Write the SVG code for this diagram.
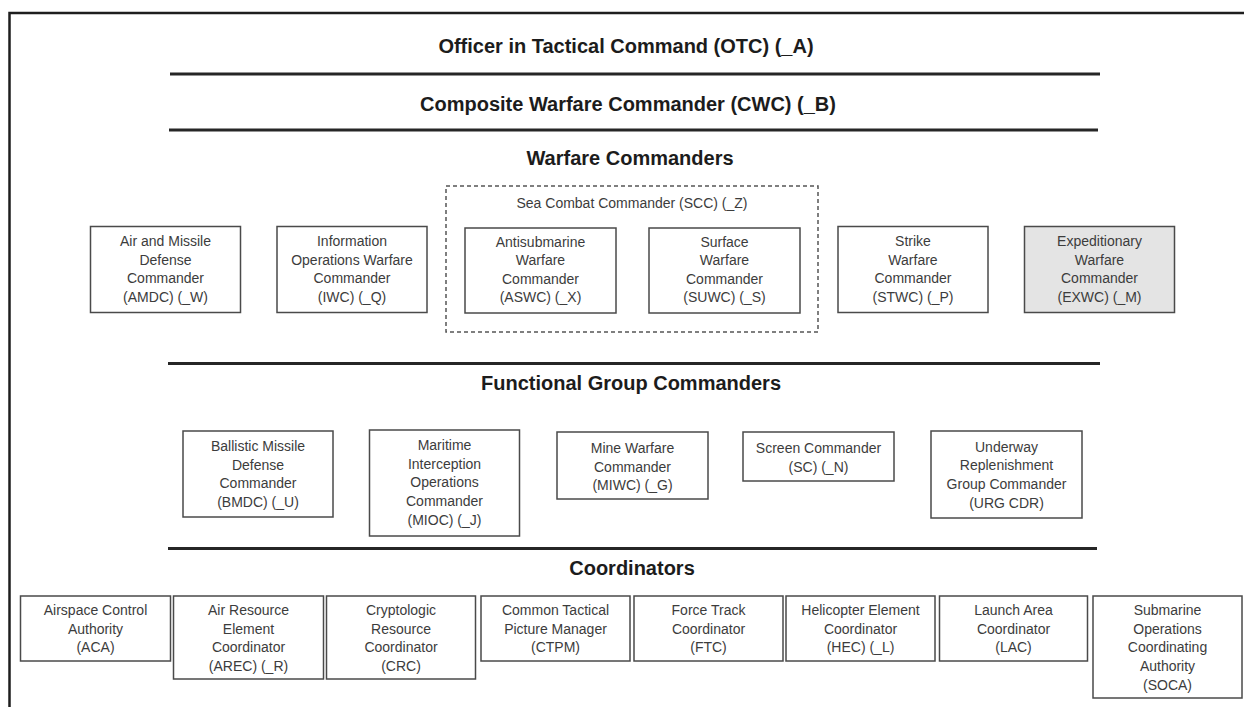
<svg xmlns="http://www.w3.org/2000/svg" width="1244" height="707" viewBox="0 0 1244 707">
<style>
.title{font-family:"Liberation Sans",Arial,sans-serif;font-weight:bold;font-size:20px;fill:#1c1c1c;text-anchor:middle}
.lbl{font-family:"Liberation Sans",Arial,sans-serif;font-size:14px;fill:#3c3c3c;text-anchor:middle}
.box{fill:#ffffff;stroke:#4a4a4a;stroke-width:1.5}
.shaded{fill:#e4e4e4}
.sep{stroke:#262626;stroke-width:3;fill:none}
.frame{stroke:#1e1e1e;stroke-width:2.5;fill:none}
.dash{fill:none;stroke:#555555;stroke-width:1.5;stroke-dasharray:4 3}
</style>
<rect width="1244" height="707" fill="#ffffff"/>
<g id="connectors">
<path class="frame" d="M9.5 707 V13 H1244"/>
<line class="sep" x1="170" y1="74" x2="1100" y2="74"/>
<line class="sep" x1="169" y1="130" x2="1098" y2="130"/>
<line class="sep" x1="168" y1="363.5" x2="1100" y2="363.5"/>
<line class="sep" x1="168" y1="548.5" x2="1097" y2="548.5"/>
</g>
<g id="headings">
<text class="title" x="626" y="53">Officer in Tactical Command (OTC) (_A)</text>
<text class="title" x="628" y="111">Composite Warfare Commander (CWC) (_B)</text>
<text class="title" x="630" y="165">Warfare Commanders</text>
<text class="title" x="631" y="390">Functional Group Commanders</text>
<text class="title" x="632" y="575">Coordinators</text>
</g>
<g id="scc">
<rect class="dash" x="446" y="186" width="372" height="146"/>
<text class="lbl" x="632" y="208">Sea Combat Commander (SCC) (_Z)</text>
</g>
<g id="amdc">
<rect class="box" x="90.5" y="226.5" width="150" height="86"/>
<text class="lbl" y="246"><tspan x="165.5">Air and Missile</tspan><tspan x="165.5" dy="18.5">Defense</tspan><tspan x="165.5" dy="18.5">Commander</tspan><tspan x="165.5" dy="18.5">(AMDC) (_W)</tspan></text>
</g>
<g id="iwc">
<rect class="box" x="277" y="226.5" width="150" height="86"/>
<text class="lbl" y="246"><tspan x="352">Information</tspan><tspan x="352" dy="18.5">Operations Warfare</tspan><tspan x="352" dy="18.5">Commander</tspan><tspan x="352" dy="18.5">(IWC) (_Q)</tspan></text>
</g>
<g id="aswc">
<rect class="box" x="465" y="228" width="151" height="85"/>
<text class="lbl" y="246.5"><tspan x="540.5">Antisubmarine</tspan><tspan x="540.5" dy="18.5">Warfare</tspan><tspan x="540.5" dy="18.5">Commander</tspan><tspan x="540.5" dy="18.5">(ASWC) (_X)</tspan></text>
</g>
<g id="suwc">
<rect class="box" x="649" y="228" width="151" height="85"/>
<text class="lbl" y="246.5"><tspan x="724.5">Surface</tspan><tspan x="724.5" dy="18.5">Warfare</tspan><tspan x="724.5" dy="18.5">Commander</tspan><tspan x="724.5" dy="18.5">(SUWC) (_S)</tspan></text>
</g>
<g id="stwc">
<rect class="box" x="838" y="226.5" width="150" height="86"/>
<text class="lbl" y="246"><tspan x="913">Strike</tspan><tspan x="913" dy="18.5">Warfare</tspan><tspan x="913" dy="18.5">Commander</tspan><tspan x="913" dy="18.5">(STWC) (_P)</tspan></text>
</g>
<g id="exwc">
<rect class="box shaded" x="1024.5" y="226.5" width="150" height="86"/>
<text class="lbl" y="246"><tspan x="1099.5">Expeditionary</tspan><tspan x="1099.5" dy="18.5">Warfare</tspan><tspan x="1099.5" dy="18.5">Commander</tspan><tspan x="1099.5" dy="18.5">(EXWC) (_M)</tspan></text>
</g>
<g id="bmdc">
<rect class="box" x="183" y="431" width="150" height="86"/>
<text class="lbl" y="451"><tspan x="258">Ballistic Missile</tspan><tspan x="258" dy="18.7">Defense</tspan><tspan x="258" dy="18.7">Commander</tspan><tspan x="258" dy="18.7">(BMDC) (_U)</tspan></text>
</g>
<g id="mioc">
<rect class="box" x="369.5" y="430" width="150" height="106"/>
<text class="lbl" y="450"><tspan x="444.5">Maritime</tspan><tspan x="444.5" dy="18.7">Interception</tspan><tspan x="444.5" dy="18.7">Operations</tspan><tspan x="444.5" dy="18.7">Commander</tspan><tspan x="444.5" dy="18.7">(MIOC) (_J)</tspan></text>
</g>
<g id="miwc">
<rect class="box" x="557" y="432" width="151" height="67"/>
<text class="lbl" y="453"><tspan x="632.5">Mine Warfare</tspan><tspan x="632.5" dy="18.7">Commander</tspan><tspan x="632.5" dy="18.7">(MIWC) (_G)</tspan></text>
</g>
<g id="sc">
<rect class="box" x="743" y="432" width="151" height="49"/>
<text class="lbl" y="453"><tspan x="818.5">Screen Commander</tspan><tspan x="818.5" dy="19">(SC) (_N)</tspan></text>
</g>
<g id="urg">
<rect class="box" x="931" y="431" width="151" height="87"/>
<text class="lbl" y="451.5"><tspan x="1006.5">Underway</tspan><tspan x="1006.5" dy="18.7">Replenishment</tspan><tspan x="1006.5" dy="18.7">Group Commander</tspan><tspan x="1006.5" dy="18.7">(URG CDR)</tspan></text>
</g>
<g id="aca">
<rect class="box" x="20.5" y="596" width="150" height="65"/>
<text class="lbl" y="615"><tspan x="95.5">Airspace Control</tspan><tspan x="95.5" dy="18.7">Authority</tspan><tspan x="95.5" dy="18.7">(ACA)</tspan></text>
</g>
<g id="arec">
<rect class="box" x="173.5" y="596" width="150" height="83"/>
<text class="lbl" y="615"><tspan x="248.5">Air Resource</tspan><tspan x="248.5" dy="18.7">Element</tspan><tspan x="248.5" dy="18.7">Coordinator</tspan><tspan x="248.5" dy="18.7">(AREC) (_R)</tspan></text>
</g>
<g id="crc">
<rect class="box" x="326.5" y="596" width="149" height="83"/>
<text class="lbl" y="615"><tspan x="401">Cryptologic</tspan><tspan x="401" dy="18.7">Resource</tspan><tspan x="401" dy="18.7">Coordinator</tspan><tspan x="401" dy="18.7">(CRC)</tspan></text>
</g>
<g id="ctpm">
<rect class="box" x="481" y="596" width="149" height="65"/>
<text class="lbl" y="615"><tspan x="555.5">Common Tactical</tspan><tspan x="555.5" dy="18.7">Picture Manager</tspan><tspan x="555.5" dy="18.7">(CTPM)</tspan></text>
</g>
<g id="ftc">
<rect class="box" x="634" y="596" width="149" height="65"/>
<text class="lbl" y="615"><tspan x="708.5">Force Track</tspan><tspan x="708.5" dy="18.7">Coordinator</tspan><tspan x="708.5" dy="18.7">(FTC)</tspan></text>
</g>
<g id="hec">
<rect class="box" x="786" y="596" width="149" height="65"/>
<text class="lbl" y="615"><tspan x="860.5">Helicopter Element</tspan><tspan x="860.5" dy="18.7">Coordinator</tspan><tspan x="860.5" dy="18.7">(HEC) (_L)</tspan></text>
</g>
<g id="lac">
<rect class="box" x="939.5" y="596" width="148" height="65"/>
<text class="lbl" y="615"><tspan x="1013.5">Launch Area</tspan><tspan x="1013.5" dy="18.7">Coordinator</tspan><tspan x="1013.5" dy="18.7">(LAC)</tspan></text>
</g>
<g id="soca">
<rect class="box" x="1093" y="596" width="149" height="102"/>
<text class="lbl" y="615"><tspan x="1167.5">Submarine</tspan><tspan x="1167.5" dy="18.7">Operations</tspan><tspan x="1167.5" dy="18.7">Coordinating</tspan><tspan x="1167.5" dy="18.7">Authority</tspan><tspan x="1167.5" dy="18.7">(SOCA)</tspan></text>
</g>
</svg>
